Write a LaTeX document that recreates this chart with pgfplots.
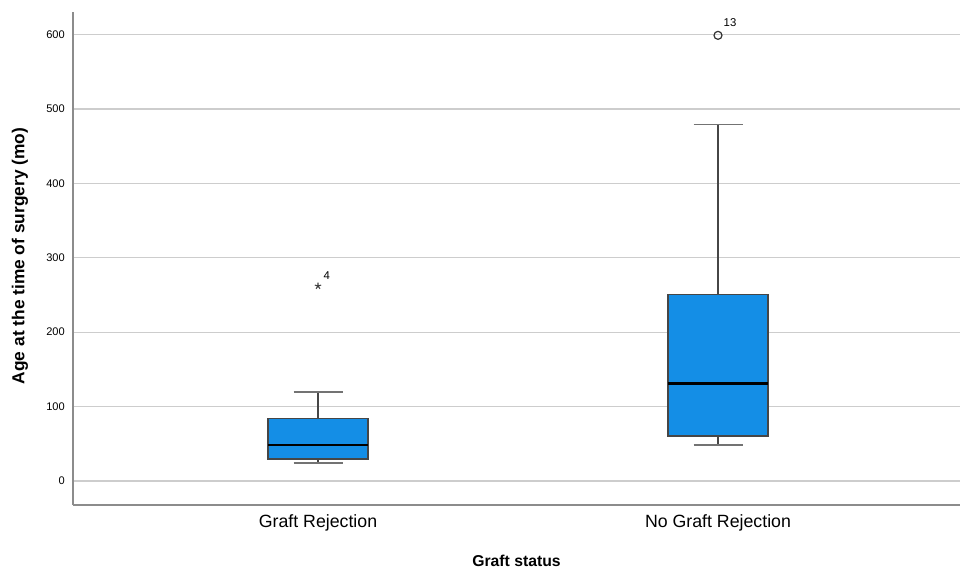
\documentclass[border=0pt]{standalone}
\usepackage{pgfplots}
\pgfplotsset{compat=1.18}
\usepackage{fontspec}
\setmainfont{Liberation Sans}
\definecolor{boxblue}{RGB}{20,142,230}
\definecolor{gridgray}{RGB}{205,205,205}
\definecolor{axgray}{RGB}{140,140,140}
\definecolor{boxedge}{RGB}{70,70,70}
\begin{document}
\begin{tikzpicture}
\useasboundingbox (-54.75pt,-50.25pt) rectangle (665.25pt,378.75pt);
\begin{axis}[
  at={(0pt,0pt)}, anchor=south west,
  scale only axis,
  width=665.25pt, height=369.75pt,
  xmin=0.3875, xmax=2.605,
  ymin=-32.3, ymax=630.4,
  axis x line*=bottom, axis y line*=left,
  axis line style={axgray, line width=0.8pt},
  xtick={1,2},
  xticklabels={Graft Rejection, No Graft Rejection},
  ytick={0,100,200,300,400,500,600},
  major tick length=0pt,
  ymajorgrids,
  grid style={gridgray, line width=0.9pt},
  /pgf/number format/assume math mode=true,
  yticklabel style={font=\fontsize{8.3pt}{10pt}\selectfont, anchor=east, inner sep=0pt, xshift=-6pt},
  xticklabel style={font=\fontsize{13.3pt}{15pt}\selectfont, anchor=center, yshift=-13.5pt},
  xlabel={\textbf{Graft status}},
  ylabel={\textbf{Age at the time of surgery (mo)}},
  xlabel style={font=\fontsize{11.8pt}{13pt}\selectfont, at={(axis description cs:0.5,-0.1136)}, anchor=center},
  ylabel style={font=\fontsize{13pt}{15pt}\selectfont, at={(axis description cs:-0.0598,0.505)}, anchor=center},
  clip=false,
]
% box 1: Graft Rejection
\addplot[boxedge, line width=0.8pt] coordinates {(1,84.3) (1,119.6)};
\addplot[boxedge, line width=0.8pt] coordinates {(1,29.6) (1,24.2)};
\addplot[black!55, line width=0.9pt] coordinates {(0.93875,119.6) (1.06125,119.6)};
\addplot[black!55, line width=0.9pt] coordinates {(0.93875,24.2) (1.06125,24.2)};
\addplot[fill=boxblue, draw=boxedge, line width=0.9pt] coordinates {(0.875,29.6) (1.125,29.6) (1.125,84.3) (0.875,84.3)} -- cycle;
\addplot[black, line width=2pt] coordinates {(0.875,48.4) (1.125,48.4)};
% box 2: No Graft Rejection
\addplot[boxedge, line width=0.8pt] coordinates {(2,251) (2,479)};
\addplot[boxedge, line width=0.8pt] coordinates {(2,60.5) (2,48.4)};
\addplot[black!55, line width=0.9pt] coordinates {(1.93875,479) (2.06125,479)};
\addplot[black!55, line width=0.9pt] coordinates {(1.93875,48.4) (2.06125,48.4)};
\addplot[fill=boxblue, draw=boxedge, line width=0.9pt] coordinates {(1.875,60.5) (2.125,60.5) (2.125,251) (1.875,251)} -- cycle;
\addplot[black, line width=2pt] coordinates {(1.875,131.3) (2.125,131.3)};
% outliers
\addplot[only marks, mark=star, mark size=2.5pt, black!75, line width=0.8pt] coordinates {(1,262)};
\addplot[only marks, mark=o, mark size=3pt, black!80, line width=0.9pt] coordinates {(2,599)};
\node[font=\fontsize{8.5pt}{10pt}\selectfont, xshift=6.5pt, yshift=7.5pt] at (axis cs:1,262) {4};
\node[font=\fontsize{8.5pt}{10pt}\selectfont, xshift=9pt, yshift=9.5pt] at (axis cs:2,599) {13};
\end{axis}
\end{tikzpicture}
\end{document}
